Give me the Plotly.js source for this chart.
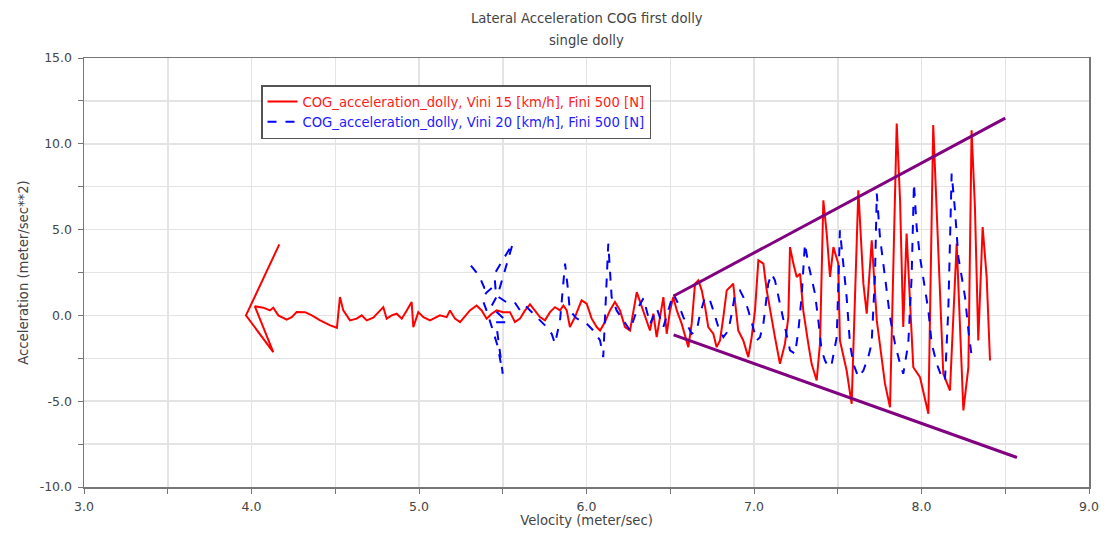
<!DOCTYPE html>
<html>
<head>
<meta charset="utf-8">
<script src="https://cdn.plot.ly/plotly-3.0.1.min.js"></script>
<style>html,body{margin:0;padding:0;background:#fff;}#chart{width:1104px;height:533px;}</style>
</head>
<body>
<div id="chart"></div>
<script>
// Velocity (m/s) and lateral acceleration (m/s^2), series 1: Vini 15 km/h
const redVelocity = [4.166,3.967,4.13,4.02,4.07,4.11,4.13,4.16,4.21,4.24,4.27,4.32,4.36,4.41,4.47,4.51,4.528,4.548,4.588,4.628,4.658,4.688,4.727,4.787,4.807,4.837,4.867,4.897,4.927,4.956,4.966,4.996,5.026,5.066,5.125,5.165,5.185,5.215,5.245,5.304,5.344,5.374,5.404,5.434,5.464,5.503,5.543,5.573,5.603,5.633,5.663,5.693,5.722,5.752,5.782,5.812,5.842,5.862,5.882,5.901,5.931,5.951,5.971,6.001,6.031,6.061,6.081,6.110,6.140,6.170,6.200,6.230,6.260,6.300,6.339,6.379,6.399,6.419,6.459,6.479,6.499,6.518,6.539,6.568,6.608,6.628,6.648,6.668,6.688,6.708,6.727,6.757,6.777,6.797,6.817,6.837,6.857,6.876,6.886,6.906,6.936,6.966,6.986,7.006,7.026,7.056,7.076,7.096,7.125,7.155,7.185,7.205,7.215,7.235,7.255,7.275,7.294,7.324,7.344,7.374,7.394,7.414,7.434,7.454,7.474,7.503,7.513,7.553,7.583,7.623,7.653,7.673,7.703,7.733,7.782,7.812,7.852,7.872,7.891,7.911,7.951,7.991,8.041,8.070,8.100,8.130,8.170,8.210,8.250,8.280,8.299,8.319,8.339,8.365,8.389,8.409];
const redAccel = [4.14,0.0,-2.14,0.53,0.45,0.29,0.45,0.0,-0.25,-0.1,0.2,0.19,0.0,-0.29,-0.58,-0.72,1.07,0.29,-0.29,-0.19,0.0,-0.29,-0.13,0.48,-0.19,0.0,0.1,-0.19,0.29,0.78,-0.68,0.19,-0.1,-0.29,0.0,-0.1,0.29,-0.19,-0.39,0.29,0.58,0.29,-0.19,0.1,0.29,0.19,0.19,-0.39,-0.19,0.29,0.64,0.29,-0.1,-0.29,0.19,0.48,0.29,0.58,0.29,-0.68,-0.1,0.39,0.88,0.68,-0.19,-0.68,-0.88,-0.39,0.29,0.78,0.29,-0.68,-0.88,1.36,0.29,-0.88,0.1,-1.27,1.07,-1.07,0.29,1.07,0.29,-0.48,-1.85,-0.48,1.85,2.04,1.46,0.48,-0.68,-1.07,-1.85,-1.46,-0.1,1.46,1.65,1.85,0.88,-0.88,-1.46,-2.43,-1.27,0.29,3.21,3.02,1.46,0.29,-1.27,-2.82,-1.65,-0.1,3.98,3.02,2.24,2.43,0.29,-1.65,-2.82,-3.79,-1.65,6.71,4.77,2.24,3.98,3.02,-1.46,-3.21,-5.15,7.29,1.85,0.1,4.38,-0.29,-3.98,-5.35,11.18,6.71,-0.68,4.77,-3.02,-3.6,-5.73,11.09,3.6,-3.4,-4.38,4.18,-5.54,-3.02,10.79,6.32,-1.46,5.15,2.24,-2.63];

// Series 2: Vini 20 km/h
const blueVelocity = [5.31,5.36,5.39,5.44,5.40,5.38,5.41,5.44,5.47,5.50,5.46,5.53,5.43,5.47,5.56,5.45,5.46,5.52,5.57,5.61,5.643,5.703,5.752,5.792,5.812,5.842,5.872,5.89,5.90,5.94,6.001,6.041,6.081,6.100,6.130,6.150,6.180,6.220,6.260,6.30,6.34,6.38,6.42,6.459,6.518,6.548,6.578,6.598,6.628,6.658,6.678,6.708,6.737,6.757,6.787,6.817,6.847,6.867,6.887,6.916,6.946,6.966,6.986,7.016,7.036,7.056,7.085,7.105,7.125,7.155,7.185,7.215,7.245,7.265,7.284,7.304,7.324,7.344,7.364,7.384,7.404,7.424,7.444,7.464,7.494,7.513,7.533,7.553,7.573,7.593,7.623,7.653,7.682,7.702,7.722,7.733,7.752,7.772,7.792,7.812,7.842,7.872,7.891,7.921,7.941,7.955,7.971,7.991,8.021,8.041,8.061,8.091,8.121,8.140,8.160,8.180,8.200,8.220,8.240,8.260,8.280,8.300];
const blueAccel = [2.9,2.3,1.6,1.65,1.3,0.9,0.1,-0.9,-1.8,-3.4,-0.4,-0.4,0.5,1.2,4.2,2.4,1.17,0.78,0.78,0.19,0.48,-0.1,-0.58,-1.07,-1.65,-0.29,3.02,1.46,0.29,-0.17,-0.48,-0.88,-1.46,-2.43,4.18,1.07,0.29,-0.29,-0.88,0.3,1.0,-0.5,0.4,-0.68,1.27,0.68,-0.1,-0.48,-1.07,-0.88,0.1,1.07,0.88,0.29,-0.68,-1.27,-0.88,0.1,1.27,1.46,0.88,0.29,-0.48,-1.46,-1.27,-0.48,1.85,2.43,2.04,0.68,-0.88,-2.04,-2.24,-0.88,1.07,4.18,3.02,2.04,1.27,-0.29,-2.04,-2.63,-3.02,-2.82,-1.27,4.96,3.02,1.07,-1.65,-2.82,-3.6,-3.21,-2.43,-1.65,2.24,7.1,4.57,2.82,1.46,-0.1,-1.65,-2.82,-3.4,-1.65,2.24,7.68,5.15,3.4,1.65,0.29,-1.65,-2.82,-3.6,-3.79,0.29,8.27,6.13,3.4,2.24,1.07,-0.88,-2.43];

// Hand-drawn envelope lines
const envUpperX = [6.52, 8.50];
const envUpperY = [1.13, 11.50];
const envLowerX = [6.52, 8.57];
const envLowerY = [-1.13, -8.28];

const xTicks = [3, 4, 5, 6, 7, 8, 9];
const xTickText = ['3.0','4.0','5.0','6.0','7.0','8.0','9.0'];
const yTicks = [-10, -5, 0, 5, 10, 15];
const yTickText = ['-10.0','-5.0','0.0','5.0','10.0','15.0'];

const titleLine1 = 'Lateral Acceleration COG first dolly';
const titleLine2 = 'single dolly';
const redName = 'COG_acceleration_dolly, Vini 15 [km/h], Fini 500 [N]';
const blueName = 'COG_acceleration_dolly, Vini 20 [km/h], Fini 500 [N]';

const FONT = 'DejaVu Sans, Verdana, sans-serif';
const FS = 13.2;
const TXT = '#444';

const traces = [
  {x: redVelocity, y: redAccel, mode: 'lines', type: 'scatter',
   name: '<span style="color:#ff2020">' + redName + '</span>',
   line: {color: '#ff0000', width: 2}},
  {x: blueVelocity, y: blueAccel, mode: 'lines', type: 'scatter',
   name: '<span style="color:#2020ff">' + blueName + '</span>',
   line: {color: '#0000ff', width: 2, dash: 'dash'}},
  {x: envUpperX, y: envUpperY, mode: 'lines', type: 'scatter', showlegend: false,
   line: {color: '#800080', width: 3}},
  {x: envLowerX, y: envLowerY, mode: 'lines', type: 'scatter', showlegend: false,
   line: {color: '#800080', width: 3}}
];

const axisCommon = {
  showline: true, mirror: true, linecolor: '#777', linewidth: 1.5,
  ticks: 'outside', ticklen: 5, tickcolor: '#777', tickwidth: 1,
  showgrid: true, gridcolor: '#e4e4e4', gridwidth: 1.5,
  zeroline: false,
  tickfont: {family: FONT, size: 12.5, color: TXT}
};

const layout = {
  width: 1104, height: 533,
  paper_bgcolor: '#fff', plot_bgcolor: '#fff',
  margin: {l: 84, r: 15, t: 58, b: 46},
  font: {family: FONT, size: FS, color: TXT},
  title: {text: titleLine1, font: {family: FONT, size: FS, color: TXT},
          x: 0.5315, xref: 'container', y: 1 - 18/533, yref: 'container', yanchor: 'middle'},
  annotations: [
    {text: titleLine2, xref: 'paper', yref: 'paper', x: 0.5, y: (487-40)/429,
     yanchor: 'middle', xanchor: 'center', showarrow: false,
     font: {family: FONT, size: FS, color: TXT}}
  ],
  xaxis: Object.assign({}, axisCommon, {
    range: [3, 9], tickmode: 'array', tickvals: xTicks, ticktext: xTickText,
    ticklabelstandoff: 2,
    minor: {dtick: 0.5, showgrid: true, gridcolor: '#e4e4e4', gridwidth: 1.5, ticks: 'outside', ticklen: 5, tickcolor: '#777'},
    title: {text: 'Velocity (meter/sec)', font: {family: FONT, size: FS, color: TXT}, standoff: 3}
  }),
  yaxis: Object.assign({}, axisCommon, {
    range: [-10, 15], tickmode: 'array', tickvals: yTicks, ticktext: yTickText,
    ticklabelstandoff: 3,
    minor: {dtick: 2.5, showgrid: true, gridcolor: '#e4e4e4', gridwidth: 1.5, ticks: 'outside', ticklen: 5, tickcolor: '#777'},
    title: {text: 'Acceleration (meter/sec**2)', font: {family: FONT, size: FS, color: TXT}, standoff: 8}
  }),
  legend: {
    x: (261-84)/1005, y: (487-85)/429, xanchor: 'left', yanchor: 'top',
    bgcolor: '#fff', bordercolor: '#555', borderwidth: 1.5,
    font: {family: FONT, size: FS, color: TXT},
    tracegroupgap: 0, itemwidth: 30
  },
  showlegend: true
};

Plotly.newPlot('chart', traces, layout, {displayModeBar: false, staticPlot: true});
</script>
</body>
</html>
